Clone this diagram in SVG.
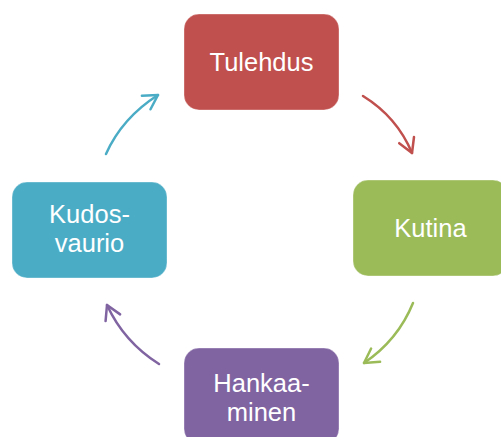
<svg xmlns="http://www.w3.org/2000/svg" width="501" height="437" viewBox="0 0 501 437">
<style>
.box{stroke:#ffffff;stroke-opacity:0.35;stroke-width:1}
.lbl{font-family:"Liberation Sans",Arial,sans-serif;font-size:25.5px;fill:#ffffff;text-anchor:middle}
.arr{fill:none;stroke-width:2.5;stroke-linecap:round}
</style>
<defs>
<marker id="mr" viewBox="0 0 20 20" refX="18" refY="10" markerWidth="20" markerHeight="20" markerUnits="userSpaceOnUse" orient="auto"><path d="M4,2 L18,10 L4,18" fill="none" stroke="#C0504D" stroke-width="2.5" stroke-linecap="round" stroke-linejoin="round"/></marker>
<marker id="mg" viewBox="0 0 20 20" refX="18" refY="10" markerWidth="20" markerHeight="20" markerUnits="userSpaceOnUse" orient="auto"><path d="M4,2 L18,10 L4,18" fill="none" stroke="#9BBB59" stroke-width="2.5" stroke-linecap="round" stroke-linejoin="round"/></marker>
<marker id="mp" viewBox="0 0 20 20" refX="18" refY="10" markerWidth="20" markerHeight="20" markerUnits="userSpaceOnUse" orient="auto"><path d="M4,2 L18,10 L4,18" fill="none" stroke="#8064A2" stroke-width="2.5" stroke-linecap="round" stroke-linejoin="round"/></marker>
<marker id="mc" viewBox="0 0 20 20" refX="18" refY="10" markerWidth="20" markerHeight="20" markerUnits="userSpaceOnUse" orient="auto"><path d="M4,2 L18,10 L4,18" fill="none" stroke="#4BACC6" stroke-width="2.5" stroke-linecap="round" stroke-linejoin="round"/></marker>
</defs>
<rect width="501" height="437" fill="#ffffff"/>
<g id="connectors">
<path class="arr" stroke="#C0504D" marker-end="url(#mr)" d="M363,96 Q397,117 412,153"/>
<path class="arr" stroke="#9BBB59" marker-end="url(#mg)" d="M413,303 Q398,340 364,363"/>
<path class="arr" stroke="#8064A2" marker-end="url(#mp)" d="M159,364 Q124,342 107,305"/>
<path class="arr" stroke="#4BACC6" marker-end="url(#mc)" d="M106,154 Q122,118 158,95"/>
</g>
<g id="tulehdus">
<rect class="box" x="184" y="14" width="155" height="96" rx="15" fill="#C0504D"/>
<text class="lbl" x="261.5" y="71">Tulehdus</text>
</g>
<g id="kutina">
<rect class="box" x="353" y="180" width="155" height="96" rx="15" fill="#9BBB59"/>
<text class="lbl" x="430.5" y="237">Kutina</text>
</g>
<g id="hankaaminen">
<rect class="box" x="184" y="348" width="155" height="96" rx="15" fill="#8064A2"/>
<text class="lbl" x="261.5" y="392">Hankaa-</text>
<text class="lbl" x="261.5" y="421">minen</text>
</g>
<g id="kudosvaurio">
<rect class="box" x="12" y="182" width="155" height="96" rx="15" fill="#4BACC6"/>
<text class="lbl" x="89.5" y="223">Kudos-</text>
<text class="lbl" x="89.5" y="252">vaurio</text>
</g>
</svg>
